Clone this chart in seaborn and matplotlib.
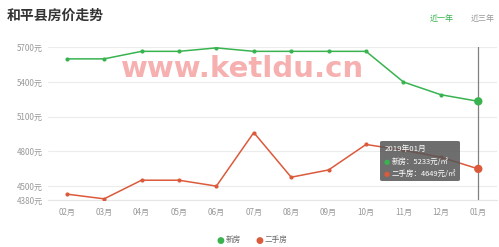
import matplotlib
matplotlib.use("Agg")
import matplotlib.pyplot as plt
import seaborn as sns
import pandas as pd
from matplotlib.patches import FancyBboxPatch

months = ["02月", "03月", "04月", "05月", "06月", "07月", "08月", "09月", "10月", "11月", "12月", "01月"]
new_house = [5600, 5600, 5665, 5665, 5695, 5665, 5665, 5665, 5665, 5400, 5290, 5233]
second_house = [4431, 4390, 4551, 4551, 4500, 4963, 4577, 4640, 4860, 4810, 4750, 4649]
series_names = ["新房", "二手房"]
y_ticks = [4380, 4500, 4800, 5100, 5400, 5700]
tooltip_title = "2019年01月"

GREEN = "#38b350"
RED = "#dc5a3c"

sns.set_theme(style="white")
plt.rcParams["font.family"] = ["Noto Sans CJK SC", "DejaVu Sans"]

W, H = 499, 247
fig = plt.figure(figsize=(W / 100, H / 100), dpi=100)
fig.patch.set_facecolor("white")

def fx(x):
    return x / W

def fy(y):
    return 1 - y / H

ax = fig.add_axes([fx(48), fy(200), fx(497) - fx(48), fy(47.3) - fy(200)])

df = pd.DataFrame({
    "month": months * 2,
    "pos": list(range(len(months))) * 2,
    "price": new_house + second_house,
    "type": [series_names[0]] * len(months) + [series_names[1]] * len(months),
})

sns.lineplot(data=df, x="pos", y="price", hue="type", palette=[GREEN, RED],
             marker="o", markersize=3, markeredgewidth=0, linewidth=1.1,
             legend=False, ax=ax, zorder=3)

# highlighted last points
last = df[df["pos"] == len(months) - 1]
sns.scatterplot(data=last, x="pos", y="price", hue="type", palette=[GREEN, RED],
                s=36, edgecolor="none", legend=False, ax=ax, zorder=5)

ax.set_xlim(-0.5, len(months) - 0.5)
ax.set_ylim(4380, 5700)
ax.set_yticks(y_ticks)
ax.set_yticklabels([f"{v}元" for v in y_ticks])
ax.set_xticks(range(len(months)))
ax.set_xticklabels(months)
ax.tick_params(axis="both", length=0, labelsize=5.8, labelcolor="#999999", pad=6)
ax.tick_params(axis="y", pad=4)
ax.set_xlabel("")
ax.set_ylabel("")
for s in ["top", "right", "left"]:
    ax.spines[s].set_visible(False)
ax.spines["bottom"].set_color("#e6e6e6")
ax.spines["bottom"].set_linewidth(0.8)
ax.yaxis.grid(True, color="#ececec", linewidth=0.8)
ax.set_axisbelow(True)

# hover pointer line
ax.axvline(len(months) - 1, color="#808080", linewidth=0.9, zorder=2)

# tooltip
box = FancyBboxPatch((fx(380), fy(181)), fx(460) - fx(380), fy(141) - fy(181),
                     boxstyle="round,pad=0,rounding_size=0.005",
                     transform=fig.transFigure, facecolor="#555555", alpha=0.85,
                     edgecolor="none", zorder=10)
fig.patches.append(box)
fig.text(fx(385), fy(149), tooltip_title, color="white", fontsize=5.6, va="center", zorder=11)
fig.text(fx(384), fy(162), "●", color=GREEN, fontsize=5, va="center", zorder=11,
         family=["DejaVu Sans"])
fig.text(fx(392), fy(162), f"{series_names[0]}：{new_house[-1]}元/㎡", color="white",
         fontsize=5.4, va="center", zorder=11)
fig.text(fx(384), fy(173.5), "●", color=RED, fontsize=5, va="center", zorder=11,
         family=["DejaVu Sans"])
fig.text(fx(392), fy(173.5), f"{series_names[1]}：{second_house[-1]}元/㎡", color="white",
         fontsize=5.4, va="center", zorder=11)

# title and tabs
fig.text(fx(7), fy(16), "和平县房价走势", fontsize=10, fontweight="bold", color="#333333", va="center")
fig.text(fx(430), fy(19), "近一年", fontsize=5.8, color=GREEN, va="center")
fig.text(fx(471), fy(19), "近三年", fontsize=5.8, color="#999999", va="center")

# watermark
fig.text(fx(243), fy(69), "www.ketldu.cn", fontsize=21, fontweight="bold", color="#f6b0b0",
         ha="center", va="center", family=["DejaVu Sans"], zorder=20)

# legend
fig.text(fx(220), fy(240), "●", color=GREEN, fontsize=6.5, ha="center", va="center", family=["DejaVu Sans"])
fig.text(fx(226), fy(240), series_names[0], color="#666666", fontsize=5.5, va="center")
fig.text(fx(259), fy(240), "●", color=RED, fontsize=6.5, ha="center", va="center", family=["DejaVu Sans"])
fig.text(fx(265), fy(240), series_names[1], color="#666666", fontsize=5.5, va="center")

fig.savefig("out.png", dpi=100)
